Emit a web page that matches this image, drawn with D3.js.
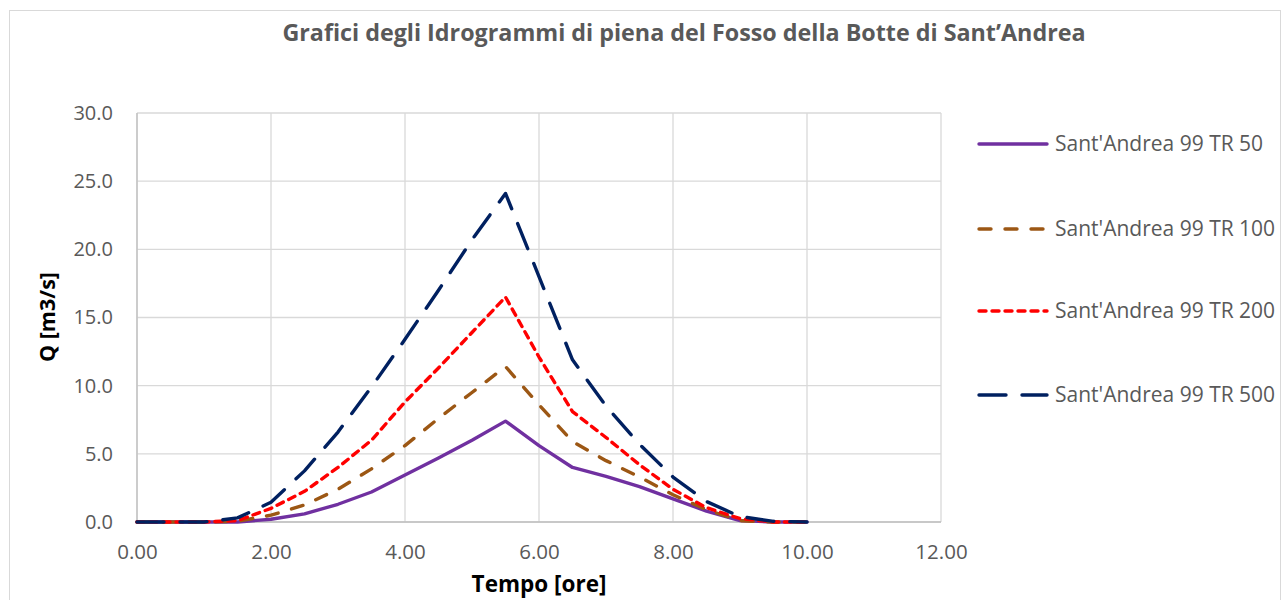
<!DOCTYPE html>
<html>
<head>
<meta charset="utf-8">
<script src="https://cdn.jsdelivr.net/npm/d3@7/dist/d3.min.js"></script>
<style>
html,body{margin:0;padding:0;background:#fff;}
svg{display:block;}
text{font-family:"Open Sans",sans-serif;fill:#595959;}
</style>
</head>
<body>
<svg id="chart" width="1282" height="600"></svg>
<script>
const time = [0,0.5,1,1.5,2,2.5,3,3.5,4,4.5,5,5.5,6,6.5,7,7.5,8,8.5,9,9.5,10];
const tr50  = [0,0,0,0,0.2,0.6,1.3,2.2,3.45,4.7,6.0,7.4,5.6,4.0,3.35,2.6,1.7,0.8,0.1,0,0];
const tr100 = [0,0,0,0.05,0.5,1.25,2.4,3.9,5.6,7.6,9.5,11.4,8.6,5.9,4.5,3.3,2.0,0.9,0.1,0,0];
const tr200 = [0,0,0,0.1,1.0,2.25,4.0,6.0,8.8,11.3,13.9,16.5,12.1,8.1,6.2,4.2,2.4,1.05,0.25,0,0];
const tr500 = [0,0,0,0.3,1.45,3.75,6.6,9.9,13.4,17.0,20.7,24.1,18.0,11.9,8.5,5.7,3.3,1.5,0.4,0.05,0];
const seriesNames = ["Sant'Andrea 99 TR 50","Sant'Andrea 99 TR 100","Sant'Andrea 99 TR 200","Sant'Andrea 99 TR 500"];
const xTicks = [0,2,4,6,8,10,12];
const yTicks = [0,5,10,15,20,25,30];
const title = "Grafici degli Idrogrammi di piena del Fosso della Botte di Sant’Andrea";
const xTitle = "Tempo [ore]";
const yTitle = "Q [m3/s]";

const styles = [
  {color:"#7030A0", dash:null},
  {color:"#9C5714", dash:"12,14"},
  {color:"#FF0000", dash:"7,6"},
  {color:"#002060", dash:"27,16"}
];
const values = [tr50,tr100,tr200,tr500];

const svg = d3.select("#chart");
// chart border
svg.append("rect").attr("x",9.5).attr("y",10.5).attr("width",1271).attr("height",600)
  .attr("fill","none").attr("stroke","#d9d9d9").attr("stroke-width",1);

const x = d3.scaleLinear().domain([0,12]).range([137,941]);
const y = d3.scaleLinear().domain([0,30]).range([522,113]);

// gridlines
const g = svg.append("g");
g.selectAll("line.vg").data(xTicks).join("line")
  .attr("x1",d=>x(d)).attr("x2",d=>x(d)).attr("y1",y(30)).attr("y2",y(0))
  .attr("stroke","#d9d9d9").attr("stroke-width",1.3);
g.selectAll("line.hg").data(yTicks).join("line")
  .attr("x1",x(0)).attr("x2",x(12)).attr("y1",d=>y(d)).attr("y2",d=>y(d))
  .attr("stroke","#d9d9d9").attr("stroke-width",1.3);
// axis lines
g.append("line").attr("x1",x(0)).attr("x2",x(12)).attr("y1",y(0)).attr("y2",y(0))
  .attr("stroke","#bfbfbf").attr("stroke-width",1.3);
g.append("line").attr("x1",x(0)).attr("x2",x(0)).attr("y1",y(0)).attr("y2",y(30))
  .attr("stroke","#bfbfbf").attr("stroke-width",1.3);

// axes via d3 axis (labels only)
const xAxis = svg.append("g").attr("transform",`translate(0,${y(0)})`)
  .call(d3.axisBottom(x).tickValues(xTicks).tickFormat(d3.format(".2f")).tickSize(0).tickPadding(22));
xAxis.select(".domain").remove();
xAxis.selectAll("text").style("font-size","20.5px").attr("fill","#595959").style("font-family","'Open Sans',sans-serif");

const yAxis = svg.append("g").attr("transform",`translate(${x(0)},0)`)
  .call(d3.axisLeft(y).tickValues(yTicks).tickFormat(d3.format(".1f")).tickSize(0).tickPadding(24));
yAxis.select(".domain").remove();
yAxis.selectAll("text").style("font-size","20px").attr("fill","#595959").style("font-family","'Open Sans',sans-serif");

// lines
const line = d3.line().x((d,i)=>x(time[i])).y(d=>y(d));
values.forEach((v,k)=>{
  svg.append("path").datum(v).attr("d",line)
    .attr("fill","none").attr("stroke",styles[k].color).attr("stroke-width",3.4)
    .attr("stroke-linecap","round").attr("stroke-linejoin","round")
    .attr("stroke-dasharray",styles[k].dash);
});

// legend
const legY = [144,229,311,395];
const leg = svg.append("g");
seriesNames.forEach((n,k)=>{
  leg.append("line").attr("x1",979).attr("x2",1047).attr("y1",legY[k]).attr("y2",legY[k])
    .attr("stroke",styles[k].color).attr("stroke-width",3.4).attr("stroke-linecap","round")
    .attr("stroke-dasharray",styles[k].dash);
  leg.append("text").attr("x",1055).attr("y",legY[k]).attr("dy","0.35em")
    .style("font-size","21px").text(n);
});

// titles
svg.append("text").attr("x",684).attr("y",41).attr("text-anchor","middle")
  .style("font-size","23.3px").style("font-weight","bold").text(title);
svg.append("text").attr("x",539).attr("y",592).attr("text-anchor","middle")
  .style("font-size","22.5px").style("font-weight","bold").style("fill","#000").text(xTitle);
svg.append("text").attr("transform","translate(55,317) rotate(-90)").attr("text-anchor","middle")
  .style("font-size","21.5px").style("font-weight","bold").style("fill","#000").text(yTitle);
</script>
</body>
</html>
